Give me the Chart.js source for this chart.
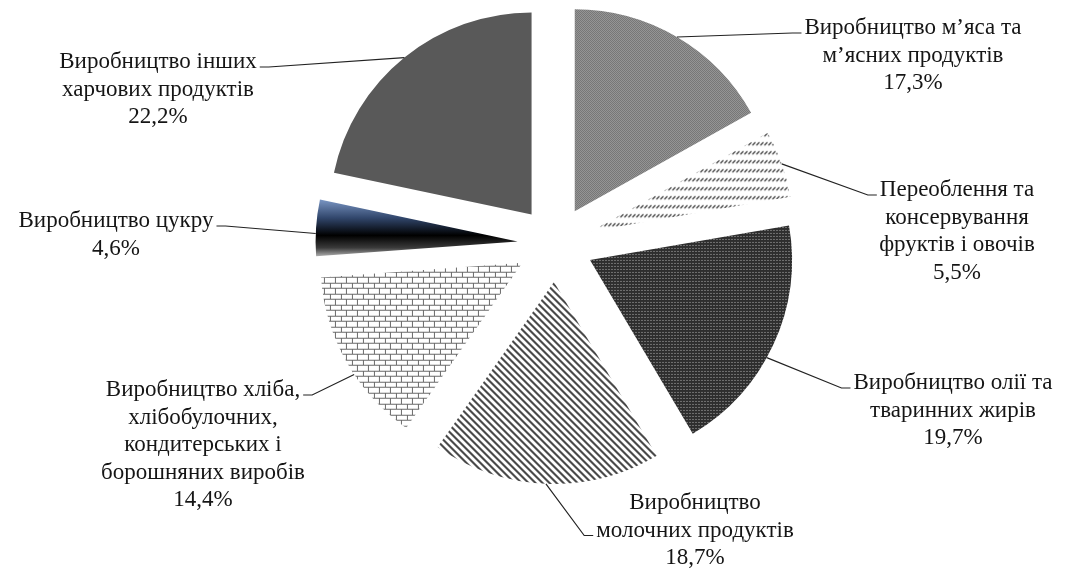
<!DOCTYPE html>
<html>
<head>
<meta charset="utf-8">
<script src="https://cdn.jsdelivr.net/npm/chart.js@4.4.0/dist/chart.umd.min.js"></script>
<style>
  html, body { margin: 0; padding: 0; background: #fff; }
  #chart { display: block; }
</style>
</head>
<body>
<canvas id="chart" width="1069" height="572"></canvas>
<script>
// categories (label lines) and shares
const categories = [
  ['Виробництво м’яса та', 'м’ясних продуктів'],
  ['Переоблення та', 'консервування', 'фруктів і овочів'],
  ['Виробництво олії та', 'тваринних жирів'],
  ['Виробництво', 'молочних продуктів'],
  ['Виробництво хліба,', 'хлібобулочних,', 'кондитерських і', 'борошняних виробів'],
  ['Виробництво цукру'],
  ['Виробництво інших', 'харчових продуктів']
];
const shares = [17.3, 5.5, 19.7, 18.7, 14.4, 4.6, 22.2];

// where each label block sits and which line the leader attaches to
const labelLayout = [
  { cx: 913, y: 28, side: 'left', line: 0 },
  { cx: 957, y: 190, side: 'left', line: 0 },
  { cx: 953, y: 383, side: 'left', line: 0, at: 0.56 },
  { cx: 695, y: 503, side: 'left', line: 1 },
  { cx: 203, y: 390, side: 'right', line: 0, at: 0.42 },
  { cx: 116, y: 221, side: 'right', line: 0, at: 0.4 },
  { cx: 158, y: 62, side: 'right', line: 0 }
];
const FONT = '23px "Liberation Serif", "Times New Roman", serif';
const LINE_H = 27.5;
const EXPLODE = 38; // how far every slice is pulled out

const fmt = (v) => v.toFixed(1).replace('.', ',') + '%';

const canvas = document.getElementById('chart');
const mainCtx = canvas.getContext('2d');

function tile(w, h, draw) {
  const c = document.createElement('canvas');
  c.width = w; c.height = h;
  const g = c.getContext('2d');
  draw(g, w, h);
  return mainCtx.createPattern(c, 'repeat');
}

// fine checker (meat)
const checkerFill = tile(2, 2, (g) => {
  g.fillStyle = '#c2c2c2'; g.fillRect(0, 0, 2, 2);
  g.fillStyle = '#4a4a4a'; g.fillRect(0, 0, 1, 1); g.fillRect(1, 1, 1, 1);
});
// dashed upward diagonal (fruits)
const dashFill = tile(4, 9, (g) => {
  g.strokeStyle = '#333'; g.lineWidth = 1.1;
  g.beginPath(); g.moveTo(3.5, 2); g.lineTo(0.5, 5); g.stroke();
});
// dark with light dots (oil)
const dotFill = tile(3, 3, (g) => {
  g.fillStyle = '#2e2e2e'; g.fillRect(0, 0, 3, 3);
  g.fillStyle = '#b5b5b5'; g.fillRect(1, 1, 1, 1);
});
// wide downward diagonal stripes (dairy)
const stripeFill = tile(7, 7, (g, s) => {
  g.fillStyle = '#fff'; g.fillRect(0, 0, s, s);
  g.fillStyle = '#4a4a4a';
  for (let y = 0; y < s; y++) {
    for (let x = 0; x < s; x++) {
      if (((x - y) % s + s) % s < 3) g.fillRect(x, y, 1, 1);
    }
  }
});
// brick (bread)
const brickFill = tile(11, 11, (g) => {
  g.fillStyle = '#fff'; g.fillRect(0, 0, 11, 11);
  g.fillStyle = '#6a6a6a';
  g.fillRect(0, 0, 11, 1); g.fillRect(0, 5, 11, 1);
  g.fillRect(0, 0, 1, 5); g.fillRect(5, 6, 1, 5);
});

function sugarGradient(c) {
  const ca = c.chart.chartArea;
  if (!ca) return '#000';
  const cy = (ca.top + ca.bottom) / 2;
  const gr = c.chart.ctx.createLinearGradient(0, cy - 42, 0, cy + 20);
  gr.addColorStop(0, '#7a96c4');
  gr.addColorStop(0.3, '#31466b');
  gr.addColorStop(0.58, '#000');
  gr.addColorStop(0.78, '#3a3a3a');
  gr.addColorStop(1, '#f4f4f4');
  return gr;
}

const fills = [checkerFill, dashFill, dotFill, stripeFill, brickFill, null, '#595959'];

// draw each arc element pulled out along its bisector
const explodePlugin = {
  id: 'explode',
  beforeDatasetDraw(chart, args) {
    const ctx = chart.ctx;
    args.meta.data.forEach((arc) => {
      const mid = (arc.startAngle + arc.endAngle) / 2;
      ctx.save();
      ctx.translate(Math.cos(mid) * EXPLODE, Math.sin(mid) * EXPLODE);
      arc.draw(ctx);
      ctx.restore();
    });
    return false;
  }
};

const labelPlugin = {
  id: 'sliceLabels',
  afterDatasetsDraw(chart) {
    const ctx = chart.ctx;
    const meta = chart.getDatasetMeta(0);
    ctx.save();
    ctx.font = FONT;
    ctx.fillStyle = '#151515';
    ctx.strokeStyle = '#222';
    ctx.lineWidth = 1.2;
    ctx.textAlign = 'center';
    ctx.textBaseline = 'middle';
    meta.data.forEach((arc, i) => {
      const lay = labelLayout[i];
      const lines = categories[i].concat(fmt(shares[i]));
      lines.forEach((t, k) => ctx.fillText(t, lay.cx, lay.y + k * LINE_H));

      const mid = (arc.startAngle + arc.endAngle) / 2;
      const a = arc.startAngle + (arc.endAngle - arc.startAngle) * (lay.at ?? 0.5);
      const ox = arc.x + Math.cos(mid) * EXPLODE;
      const oy = arc.y + Math.sin(mid) * EXPLODE;
      const px = ox + Math.cos(a) * arc.outerRadius;
      const py = oy + Math.sin(a) * arc.outerRadius;

      const w = ctx.measureText(lines[lay.line]).width;
      const ly = lay.y + lay.line * LINE_H + 5;
      const tx = lay.side === 'left' ? lay.cx - w / 2 - 3 : lay.cx + w / 2 + 3;
      const ex = lay.side === 'left' ? tx - 9 : tx + 9;
      ctx.beginPath();
      ctx.moveTo(tx, ly);
      ctx.lineTo(ex, ly);
      ctx.lineTo(px, py);
      ctx.stroke();
    });
    ctx.restore();
  }
};

new Chart(mainCtx, {
  type: 'pie',
  data: {
    labels: categories.map((c) => c.join(' ')),
    datasets: [{
      data: shares,
      backgroundColor: (c) => (c.dataIndex === 5 ? sugarGradient(c) : fills[c.dataIndex]),
      borderWidth: 0
    }]
  },
  options: {
    responsive: false,
    animation: false,
    events: [],
    radius: 202,
    layout: { padding: { left: 42, right: 0, top: 0, bottom: 84 } },
    plugins: {
      legend: { display: false },
      tooltip: { enabled: false }
    }
  },
  plugins: [explodePlugin, labelPlugin]
});
</script>
</body>
</html>
